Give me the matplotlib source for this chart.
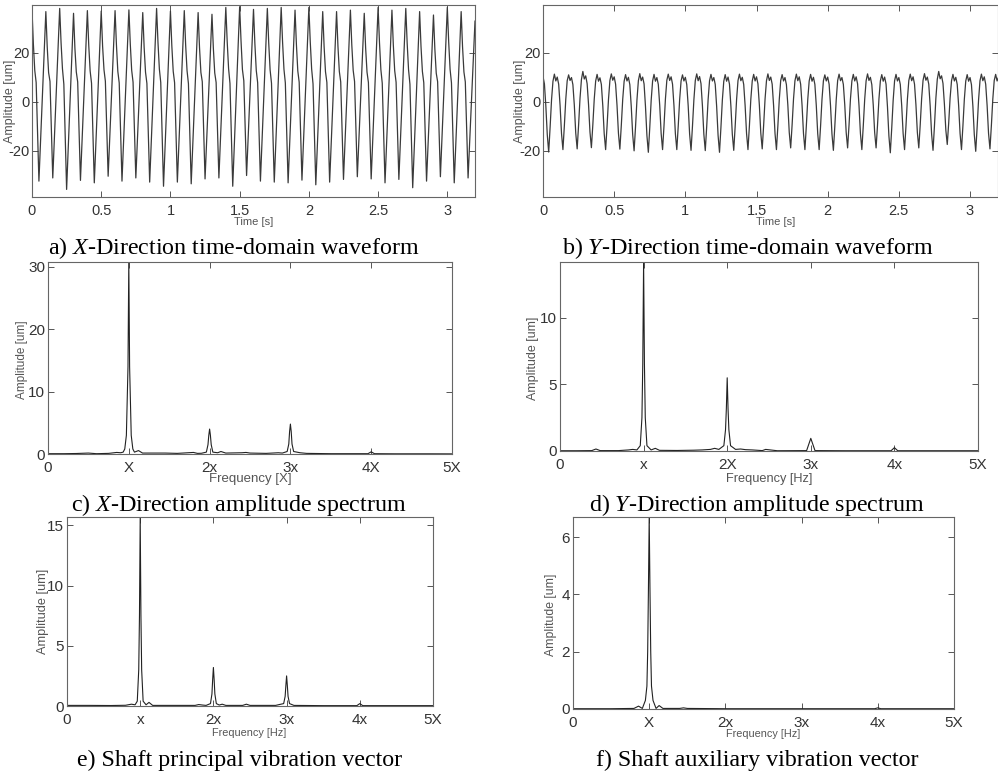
import matplotlib
matplotlib.use('Agg')
import matplotlib.pyplot as plt
import numpy as np

plt.rcParams['font.family'] = 'Liberation Sans'
plt.rcParams['axes.unicode_minus'] = False
plt.rcParams['mathtext.fontset'] = 'custom'
plt.rcParams['mathtext.rm'] = 'Liberation Serif'
plt.rcParams['mathtext.it'] = 'Liberation Serif:italic'

# displacement records, one line per shaft revolution (0.1 s), 0.01 s spacing [um]
DT = 0.01
x_wave = [
    37.6, 23.5, 12.8, 7.9, -12.6, -32.5, -18.6, -4.7, 9.1, 23.0,
    36.9, 22.4, 11.9, 8.3, -11.7, -31.2, -17.3, -3.4, 10.4, 24.3,
    38.2, 24.1, 13.5, 7.2, -14.3, -35.9, -21.5, -7.1, 7.4, 21.8,
    36.2, 21.8, 12.2, 8.1, -12.2, -32.2, -18.3, -4.4, 9.5, 23.4,
    37.3, 23.0, 12.6, 7.6, -13.0, -33.2, -19.1, -5.1, 9.0, 23.0,
    37.1, 22.7, 13.1, 8.4, -11.4, -30.5, -16.9, -3.4, 10.2, 23.7,
    37.3, 23.2, 12.4, 7.7, -12.5, -32.5, -18.5, -4.5, 9.6, 23.6,
    37.6, 23.6, 12.9, 8.0, -11.9, -31.2, -17.7, -4.1, 9.4, 23.0,
    36.5, 22.3, 12.1, 7.5, -12.8, -32.9, -18.7, -4.5, 9.8, 24.0,
    38.2, 24.3, 13.4, 7.9, -13.6, -34.6, -20.3, -5.9, 8.4, 22.8,
    37.1, 22.9, 12.5, 7.8, -12.7, -32.9, -18.9, -4.8, 9.2, 23.3,
    37.3, 23.1, 12.7, 7.4, -13.1, -33.6, -19.6, -5.6, 8.4, 22.5,
    36.5, 22.2, 12.0, 8.2, -12.0, -31.6, -18.1, -4.6, 8.8, 22.3,
    35.8, 21.9, 11.8, 7.9, -11.6, -31.2, -17.2, -3.3, 10.7, 24.6,
    38.6, 24.6, 13.6, 7.5, -13.8, -34.6, -19.9, -5.2, 9.5, 24.2,
    38.9, 24.8, 13.2, 8.6, -11.1, -30.2, -16.6, -3.0, 10.6, 24.2,
    37.8, 23.7, 12.8, 7.8, -12.4, -32.5, -18.4, -4.2, 9.9, 24.1,
    38.2, 24.0, 13.0, 7.6, -12.9, -32.9, -18.6, -4.3, 10.0, 24.3,
    38.6, 24.4, 13.3, 7.7, -13.2, -33.2, -19.1, -4.9, 9.2, 23.4,
    37.5, 23.4, 12.6, 8.0, -12.3, -32.1, -18.0, -3.8, 10.3, 24.5,
    38.6, 24.5, 13.4, 7.3, -13.5, -34.0, -19.8, -5.6, 8.5, 22.7,
    36.9, 22.6, 12.3, 7.9, -12.6, -32.9, -18.9, -4.9, 9.0, 23.0,
    36.9, 22.7, 12.4, 8.1, -12.1, -31.8, -17.9, -4.1, 9.8, 23.6,
    37.5, 23.3, 12.9, 8.3, -11.3, -30.7, -17.3, -3.9, 9.4, 22.8,
    36.2, 22.0, 12.1, 7.9, -11.9, -31.6, -17.6, -3.5, 10.5, 24.6,
    38.6, 24.3, 13.2, 7.6, -13.1, -33.2, -19.1, -4.9, 9.2, 23.4,
    37.5, 23.2, 12.7, 8.0, -12.2, -31.8, -17.8, -3.8, 10.2, 24.2,
    38.2, 24.0, 13.1, 7.2, -14.0, -35.2, -20.8, -6.4, 8.1, 22.5,
    36.9, 22.6, 12.4, 7.8, -12.5, -32.5, -18.9, -5.3, 8.3, 21.9,
    35.5, 21.6, 11.7, 8.2, -11.2, -30.7, -16.8, -3.0, 10.9, 24.7,
    38.6, 24.4, 13.3, 7.7, -13.2, -33.2, -19.2, -5.2, 8.9, 22.9,
    36.9, 22.5, 12.2, 8.1, -11.8, -31.2, -18.4, -5.5, 7.3, 20.2,
    33.0,
]
y_wave = [
    10.3, 7.3, -1.8, -13.5, -20.6, -10.4, 0.8, 8.4, 11.3, 8.5,
    10.1, 7.2, -1.5, -13.0, -19.6, -9.9, 1.0, 8.6, 11.0, 8.7,
    9.9, 7.0, -1.4, -12.8, -19.3, -9.6, 1.4, 9.1, 12.4, 9.3,
    10.6, 7.4, -1.2, -12.4, -18.8, -9.5, 1.1, 8.5, 11.2, 8.4,
    9.8, 7.1, -1.6, -13.1, -19.6, -10.0, 0.9, 8.7, 11.4, 8.8,
    10.2, 7.2, -1.5, -12.9, -19.4, -9.8, 1.0, 8.4, 11.1, 8.5,
    10.0, 7.0, -1.9, -13.4, -20.1, -10.3, 0.7, 8.6, 11.5, 8.6,
    10.1, 7.3, -2.0, -13.8, -20.7, -10.6, 0.6, 8.5, 11.2, 8.4,
    9.9, 7.1, -1.5, -13.0, -19.6, -9.9, 1.1, 8.8, 11.3, 8.7,
    10.2, 7.2, -1.6, -13.1, -19.6, -10.0, 0.9, 8.5, 11.0, 8.5,
    10.0, 7.0, -1.7, -13.2, -19.9, -10.1, 0.8, 8.7, 11.4, 8.6,
    10.3, 7.4, -1.7, -13.3, -20.0, -10.2, 0.9, 8.6, 11.2, 8.5,
    9.9, 7.1, -2.0, -13.8, -20.7, -10.5, 0.7, 8.4, 11.1, 8.4,
    10.1, 7.2, -1.8, -13.3, -19.9, -10.1, 0.9, 8.7, 11.3, 8.6,
    10.0, 7.1, -1.6, -13.0, -19.6, -9.9, 1.0, 8.5, 11.2, 8.5,
    10.2, 7.3, -1.4, -12.8, -19.3, -9.7, 1.1, 8.6, 11.4, 8.7,
    10.1, 7.2, -1.6, -13.0, -19.6, -9.9, 1.0, 8.7, 11.1, 8.5,
    9.9, 7.0, -1.3, -12.6, -18.9, -9.5, 1.2, 8.6, 11.3, 8.6,
    10.2, 7.2, -1.5, -13.0, -19.6, -9.9, 0.9, 8.5, 11.2, 8.4,
    10.0, 7.1, -1.6, -13.1, -19.6, -10.0, 1.0, 8.6, 11.0, 8.5,
    10.1, 7.2, -1.7, -13.2, -19.9, -10.1, 0.8, 8.7, 11.3, 8.6,
    9.9, 7.1, -1.3, -12.6, -18.9, -9.5, 1.2, 8.5, 11.2, 8.5,
    10.2, 7.3, -1.6, -13.0, -19.6, -9.9, 1.0, 8.6, 11.4, 8.7,
    10.0, 7.0, -1.3, -12.6, -18.9, -9.6, 1.1, 8.5, 11.1, 8.4,
    10.1, 7.2, -2.1, -14.0, -20.9, -10.7, 0.6, 8.6, 11.2, 8.5,
    9.9, 7.1, -1.6, -13.0, -19.6, -9.9, 1.0, 8.7, 11.3, 8.6,
    10.2, 7.2, -1.3, -12.6, -18.9, -9.5, 1.3, 8.8, 11.5, 8.8,
    10.1, 7.2, -1.7, -13.2, -19.9, -10.0, 1.4, 9.2, 12.4, 9.4,
    10.6, 7.5, -1.0, -11.6, -17.5, -8.8, 1.5, 8.6, 11.2, 8.5,
    10.0, 7.1, -1.6, -13.0, -19.6, -9.9, 1.0, 8.5, 11.1, 8.4,
    9.9, 7.0, -1.8, -13.5, -20.3, -10.3, 0.8, 8.6, 11.3, 8.6,
    10.2, 7.2, -1.5, -12.9, -19.3, -9.7, 1.1, 8.7, 11.2, 8.5,
    10.0,
]

# amplitude spectra, frequency in multiples of running speed
freq_x = [0.00, 0.20, 0.35, 0.50, 0.55, 0.60, 0.75, 0.85, 0.90, 0.93, 0.95, 0.97, 0.99, 1.00,
          1.01, 1.03, 1.05, 1.07, 1.12, 1.17, 1.30, 1.45, 1.60, 1.80, 1.85, 1.90, 1.96, 1.98,
          1.99, 2.00, 2.01, 2.02, 2.04, 2.10, 2.14, 2.20, 2.40, 2.45, 2.50, 2.70, 2.85, 2.90,
          2.96, 2.98, 2.99, 3.00, 3.01, 3.02, 3.04, 3.12, 3.20, 3.50, 3.96, 4.00, 4.04, 4.30,
          4.70, 5.00]
amp_x = [0.05, 0.05, 0.08, 0.15, 0.10, 0.05, 0.10, 0.25, 0.20, 0.30, 0.80, 3.00, 14.0, 31.0,
         14.0, 3.00, 0.80, 0.30, 0.55, 0.15, 0.15, 0.15, 0.10, 0.25, 0.10, 0.12, 0.30, 1.50,
         3.00, 4.00, 3.00, 1.50, 0.30, 0.20, 0.40, 0.15, 0.20, 0.25, 0.15, 0.10, 0.20, 0.15,
         0.40, 1.60, 3.60, 4.80, 3.60, 1.60, 0.40, 0.20, 0.10, 0.05, 0.05, 0.35, 0.05, 0.03,
         0.03, 0.02]

freq_y = [0.00, 0.20, 0.38, 0.43, 0.48, 0.70, 0.82, 0.87, 0.92, 0.96, 0.98, 0.99, 1.00, 1.01,
          1.02, 1.04, 1.09, 1.14, 1.19, 1.40, 1.60, 1.70, 1.80, 1.85, 1.90, 1.96, 1.98, 1.99,
          2.00, 2.01, 2.02, 2.04, 2.10, 2.16, 2.22, 2.30, 2.42, 2.46, 2.60, 2.95, 2.97, 3.00,
          3.03, 3.05, 3.40, 3.96, 4.00, 4.04, 4.50, 5.00]
amp_y = [0.02, 0.02, 0.03, 0.15, 0.03, 0.03, 0.08, 0.12, 0.08, 0.40, 2.50, 6.50, 14.2, 6.50,
         2.50, 0.40, 0.08, 0.20, 0.05, 0.04, 0.06, 0.08, 0.12, 0.20, 0.12, 0.40, 1.60, 3.20,
         5.50, 3.20, 1.60, 0.40, 0.12, 0.15, 0.10, 0.08, 0.03, 0.12, 0.02, 0.03, 0.40, 0.95,
         0.40, 0.03, 0.02, 0.02, 0.25, 0.02, 0.02, 0.02]

freq_main = [0.00, 0.30, 0.60, 0.80, 0.88, 0.93, 0.96, 0.98, 0.99, 1.00, 1.01, 1.02, 1.04, 1.08,
             1.12, 1.17, 1.40, 1.75, 1.80, 1.85, 1.90, 1.96, 1.98, 1.99, 2.00, 2.01, 2.02, 2.04,
             2.08, 2.12, 2.17, 2.40, 2.45, 2.50, 2.85, 2.90, 2.96, 2.98, 2.99, 3.00, 3.01, 3.02,
             3.04, 3.10, 3.50, 3.96, 4.00, 4.04, 4.50, 5.00]
amp_main = [0.05, 0.05, 0.04, 0.06, 0.15, 0.10, 0.40, 3.00, 7.50, 15.7, 7.50, 3.00, 0.40, 0.10,
            0.30, 0.05, 0.05, 0.05, 0.12, 0.08, 0.05, 0.20, 1.00, 2.20, 3.20, 2.20, 1.00, 0.20,
            0.08, 0.15, 0.05, 0.05, 0.15, 0.05, 0.05, 0.12, 0.20, 0.80, 1.70, 2.50, 1.70, 0.80,
            0.20, 0.05, 0.03, 0.03, 0.20, 0.03, 0.03, 0.03]

freq_aux = [0.00, 0.50, 0.80, 0.86, 0.91, 0.95, 0.97, 0.98, 0.99, 1.00, 1.01, 1.02, 1.03,
            1.05, 1.09, 1.13, 1.18, 1.40, 1.45, 1.50, 2.00, 3.00, 3.96, 4.00, 4.04, 5.00]
amp_aux = [0.01, 0.01, 0.02, 0.10, 0.02, 0.30, 0.80, 2.00, 4.20, 6.70, 4.20, 2.00, 0.80,
           0.30, 0.02, 0.12, 0.02, 0.02, 0.04, 0.02, 0.01, 0.01, 0.01, 0.04, 0.01, 0.01]

harm_pos = [0, 1, 2, 3, 4, 5]
harm_x = ['0', 'X', '2x', '3x', '4X', '5X']
harm_y = ['0', 'x', '2X', '3x', '4x', '5X']
harm_main = ['0', 'x', '2x', '3x', '4x', '5X']
harm_aux = ['0', 'X', '2x', '3x', '4x', '5X']

W, H = 998, 775
fig = plt.figure(figsize=(W / 100, H / 100), dpi=100)


def add_box(left, top, right, bottom):
    # axes placed by pixel edges
    return fig.add_axes([left / W, 1 - bottom / H, (right - left) / W, (bottom - top) / H])


def style(ax, size):
    ax.tick_params(direction='in', top=True, right=True, length=4, width=0.7,
                   color='#555555', labelcolor='#333333', labelsize=size)
    ax.tick_params(axis='x', pad=5)
    ax.tick_params(axis='y', pad=2)
    for s in ax.spines.values():
        s.set_color('#666666')
        s.set_linewidth(0.8)


def labels(ax, xl, xpos, xsize, ypos, ysize):
    ax.set_xlabel(xl, fontsize=xsize, color='#555555', va='center')
    ax.xaxis.set_label_coords(*xpos)
    ax.set_ylabel('Amplitude [um]', fontsize=ysize, color='#555555', va='center')
    ax.yaxis.set_label_coords(*ypos)


def caption(x, y, s):
    fig.text(x / W, 1 - y / H, s, ha='center', va='baseline', fontsize=17.3,
             family='Liberation Serif', color='black')


t = np.arange(len(x_wave)) * DT
wave_kw = dict(color='#3a3a3a', lw=0.9)

# time-domain waveforms
ax = add_box(32, 5, 475, 197)
ax.plot(t, x_wave, **wave_kw)
ax.set_xlim(0, 3.2)
ax.set_ylim(-39, 39.6)
ax.set_xticks([0, 0.5, 1, 1.5, 2, 2.5, 3])
ax.set_xticklabels(['0', '0.5', '1', '1.5', '2', '2.5', '3'])
ax.set_yticks([-20, 0, 20])
style(ax, 10.5)
labels(ax, 'Time [s]', (0.5, -0.13), 8, (-0.05, 0.5), 9)

ax = add_box(543, 5, 998.5, 197)
ax.plot(t, y_wave, **wave_kw)
ax.set_xlim(0, 3.2)
ax.set_ylim(-39, 39.6)
ax.set_xticks([0, 0.5, 1, 1.5, 2, 2.5, 3])
ax.set_xticklabels(['0', '0.5', '1', '1.5', '2', '2.5', '3'])
ax.set_yticks([-20, 0, 20])
style(ax, 10.5)
labels(ax, 'Time [s]', (0.51, -0.13), 8, (-0.05, 0.5), 9)

spec_kw = dict(color='#222222', lw=0.8)

# amplitude spectra
ax = add_box(48, 262, 452, 454)
ax.plot(freq_x, amp_x, **spec_kw)
ax.set_xlim(0, 5)
ax.set_ylim(0, 30.8)
ax.set_xticks(harm_pos)
ax.set_xticklabels(harm_x)
ax.set_yticks([0, 10, 20, 30])
style(ax, 11)
labels(ax, 'Frequency [X]', (0.5, -0.13), 9.5, (-0.064, 0.49), 8.5)

ax = add_box(560, 262, 978, 451)
ax.plot(freq_y, amp_y, **spec_kw)
ax.set_xlim(0, 5)
ax.set_ylim(0, 14.2)
ax.set_xticks(harm_pos)
ax.set_xticklabels(harm_y)
ax.set_yticks([0, 5, 10])
style(ax, 11)
labels(ax, 'Frequency [Hz]', (0.5, -0.148), 9.2, (-0.065, 0.49), 9)

ax = add_box(67, 517, 433, 706)
ax.plot(freq_main, amp_main, **spec_kw)
ax.set_xlim(0, 5)
ax.set_ylim(0, 15.7)
ax.set_xticks(harm_pos)
ax.set_xticklabels(harm_main)
ax.set_yticks([0, 5, 10, 15])
style(ax, 11)
labels(ax, 'Frequency [Hz]', (0.497, -0.143), 7.8, (-0.066, 0.5), 9.2)

ax = add_box(573, 517, 954, 709)
ax.plot(freq_aux, amp_aux, **spec_kw)
ax.set_xlim(0, 5)
ax.set_ylim(0, 6.7)
ax.set_xticks(harm_pos)
ax.set_xticklabels(harm_aux)
ax.set_yticks([0, 2, 4, 6])
style(ax, 11)
labels(ax, 'Frequency [Hz]', (0.5, -0.13), 7.8, (-0.058, 0.49), 8.8)

caption(234, 254, 'a) $X$-Direction time-domain waveform')
caption(748, 254, 'b) $Y$-Direction time-domain waveform')
caption(239, 511, 'c) $X$-Direction amplitude spectrum')
caption(757, 511, 'd) $Y$-Direction amplitude spectrum')
caption(240, 766, 'e) Shaft principal vibration vector')
caption(757, 766, 'f) Shaft auxiliary vibration vector')

fig.savefig('out.png', dpi=100)
